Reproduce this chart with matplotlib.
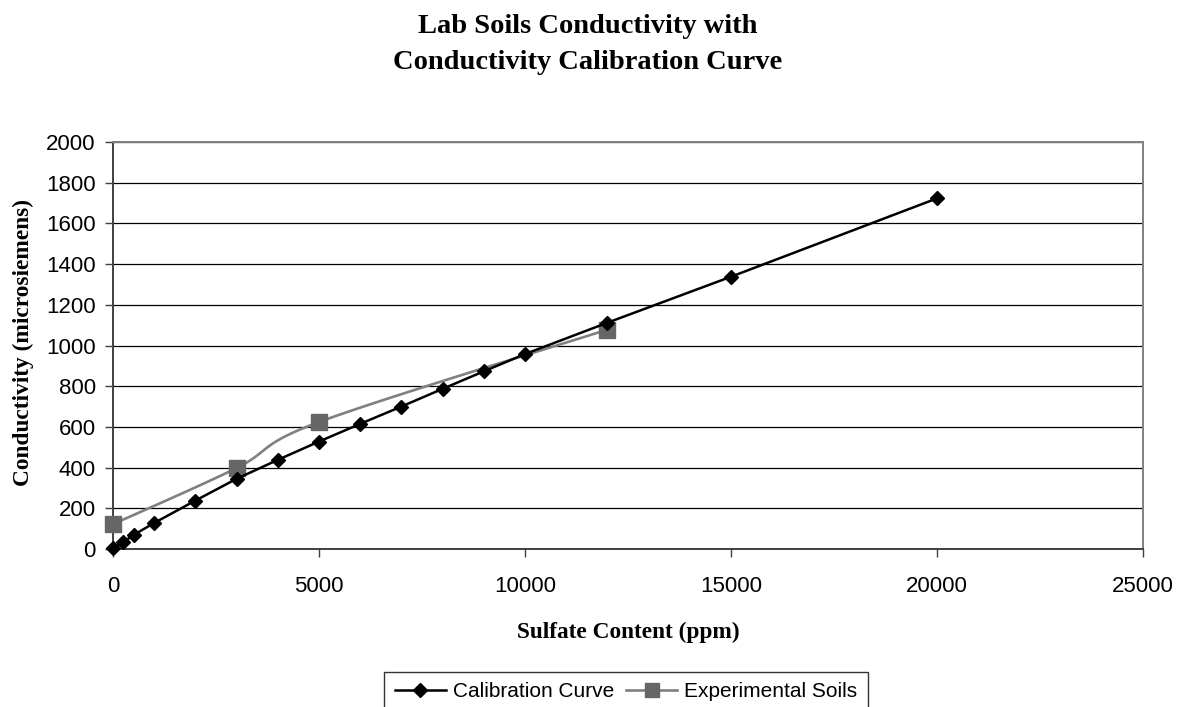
import numpy as np
import matplotlib
matplotlib.use("Agg")
import matplotlib.pyplot as plt
from matplotlib.lines import Line2D

cal_x = [0, 250, 500, 1000, 2000, 3000, 4000, 5000, 6000, 7000, 8000, 9000, 10000, 12000, 15000, 20000]
cal_y = [5, 34, 69, 128, 238, 345, 438, 528, 615, 700, 787, 873, 958, 1112, 1338, 1723]
exp_x = [0, 3000, 5000, 12000]
exp_y = [122, 398, 624, 1078]

def smooth(xs, ys, n=40):
    # Catmull-Rom style smoothing, similar to spreadsheet "smoothed line"
    p = np.column_stack([xs, ys]).astype(float)
    out = []
    for i in range(len(p) - 1):
        p0 = p[i - 1] if i > 0 else p[i]
        p1, p2 = p[i], p[i + 1]
        p3 = p[i + 2] if i + 2 < len(p) else p[i + 1]
        c1 = p1 + (p2 - p0) / 6.0
        c2 = p2 - (p3 - p1) / 6.0
        t = np.linspace(0, 1, n)[:, None]
        seg = ((1 - t) ** 3) * p1 + 3 * ((1 - t) ** 2) * t * c1 + 3 * (1 - t) * t ** 2 * c2 + t ** 3 * p2
        out.append(seg if i == 0 else seg[1:])
    s = np.vstack(out)
    return s[:, 0], s[:, 1]

W, H = 1180, 707
fig = plt.figure(figsize=(W / 100, H / 100), dpi=100)
ax = fig.add_axes([113 / W, 1 - 549 / H, (1143 - 113) / W, (549 - 142) / H])

ax.set_xlim(0, 25000)
ax.set_ylim(0, 2000)
ax.set_xticks(np.arange(0, 25001, 5000))
ax.set_yticks(np.arange(0, 2001, 200))
ax.yaxis.grid(True, color='black', linewidth=0.9)
ax.set_axisbelow(True)
ax.spines['top'].set_color('#808080')
ax.spines['right'].set_color('#808080')
ax.spines['left'].set_color('#404040')
ax.spines['bottom'].set_color('#404040')
for s in ax.spines.values():
    s.set_linewidth(1.4)
ax.tick_params(axis='both', direction='out', length=5.5, width=1, color='#404040', labelsize=16)
ax.tick_params(axis='y', pad=7)
ax.tick_params(axis='x', pad=14)
for lab in ax.get_xticklabels() + ax.get_yticklabels():
    lab.set_fontfamily('Liberation Sans')

sx, sy = smooth(exp_x, exp_y)
ax.plot(sx, sy, color='#808080', linewidth=1.9, zorder=3, clip_on=False)
ax.plot(exp_x, exp_y, linestyle='none', marker='s', markersize=11, color='#666666', zorder=4, clip_on=False)
ax.plot(cal_x, cal_y, color='black', linewidth=1.8, marker='D', markersize=7.5, zorder=5, clip_on=False)

serif = dict(fontfamily='Liberation Serif', fontweight='bold')
fig.text(628 / W, 1 - 632 / H, 'Sulfate Content (ppm)', ha='center', va='center', fontsize=16.8, **serif)
fig.text(23 / W, 1 - 343 / H, 'Conductivity (microsiemens)', ha='center', va='center', rotation=90, fontsize=16.8, **serif)

fig.text(588 / W, 1 - 33 / H, 'Lab Soils Conductivity with', ha='center', va='baseline', fontsize=20.5, **serif)
fig.text(588 / W, 1 - 69 / H, 'Conductivity Calibration Curve', ha='center', va='baseline', fontsize=20.5, **serif)

handles = [Line2D([], [], color='black', linewidth=1.8, marker='D', markersize=7.5),
           Line2D([], [], color='#808080', linewidth=1.9, marker='s', markersize=10,
                  markerfacecolor='#666666', markeredgecolor='#666666')]
leg = fig.legend(handles, ['Calibration Curve', 'Experimental Soils'], loc='upper center',
                 bbox_to_anchor=(626 / W, 1 - 672 / H), ncol=2, frameon=True, fancybox=False,
                 prop={'family': 'Liberation Sans', 'size': 15}, handlelength=2.45, columnspacing=0.6,
                 handletextpad=0.33, borderpad=0.5, borderaxespad=0)
leg.get_frame().set_edgecolor('black')
leg.get_frame().set_linewidth(1)

fig.savefig('out.png', dpi=100)
